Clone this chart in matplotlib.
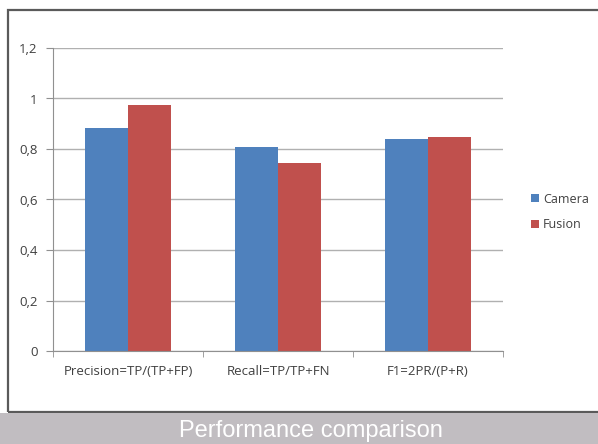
import numpy as np
import matplotlib.pyplot as plt
from matplotlib.patches import Rectangle

# valeurs des métriques
categories = ["Precision=TP/(TP+FP)", "Recall=TP/TP+FN", "F1=2PR/(P+R)"]
camera = [0.883, 0.808, 0.840]
fusion = [0.974, 0.745, 0.846]
series_names = ["Camera", "Fusion"]
yticks = [0, 0.2, 0.4, 0.6, 0.8, 1.0, 1.2]
ytick_labels = ["0", "0,2", "0,4", "0,6", "0,8", "1", "1,2"]
title = "Performance comparison"

W, H = 598, 444
fig = plt.figure(figsize=(W/100, H/100), dpi=100)
fig.patch.set_facecolor('white')

# cadre du graphique et bandeau gris du titre
fig.add_artist(Rectangle((8/W, 1-412/H), 1.0, (412-10)/H, transform=fig.transFigure,
                         fill=False, edgecolor='#5a5a5a', lw=1.6, zorder=1))
fig.add_artist(Rectangle((0, 0), 1, 31/H, transform=fig.transFigure,
                         facecolor='#c1bdc1', edgecolor='none', zorder=2))
fig.text(311/W, 1-431/H, title, color='white', fontsize=17,
         family='Liberation Sans', ha='center', va='center', zorder=3)

ax = fig.add_axes([53/W, 1-351/H, 450/W, (351-48)/H])
x = np.arange(len(categories))
w = 0.285
ax.bar(x - w/2, camera, w, color='#4f81bd', label=series_names[0], zorder=2)
ax.bar(x + w/2, fusion, w, color='#c0504d', label=series_names[1], zorder=2)

fs = 9.5
ax.set_xlim(-0.5, len(categories) - 0.5)
ax.set_ylim(0, 1.2)
ax.set_yticks(yticks)
ax.set_yticklabels(ytick_labels)
ax.yaxis.grid(True, color='#b0b0b0', lw=1, zorder=0)
for s in ['top', 'right']:
    ax.spines[s].set_visible(False)
for s in ['left', 'bottom']:
    ax.spines[s].set_color('#909090')
ax.tick_params(axis='y', length=5, color='#909090', pad=6, labelsize=fs,
               labelcolor='#404040')
ax.set_xticks(x)
ax.set_xticklabels(categories)
ax.set_xticks(np.arange(len(categories) + 1) - 0.5, minor=True)
ax.tick_params(axis='x', which='major', length=0, pad=10, labelsize=fs,
               labelcolor='#404040')
ax.tick_params(axis='x', which='minor', length=4, color='#909090')
for lab in ax.get_xticklabels() + ax.get_yticklabels():
    lab.set_family('Open Sans')

leg = ax.legend(loc='center left', bbox_to_anchor=(467/450, (351-212)/303),
                frameon=False, handlelength=0.6, handleheight=0.6,
                handletextpad=0.35, labelspacing=1.0,
                prop={'family': 'Open Sans', 'size': 9})
for t in leg.get_texts():
    t.set_color('#404040')

fig.savefig('out.png', dpi=100)
